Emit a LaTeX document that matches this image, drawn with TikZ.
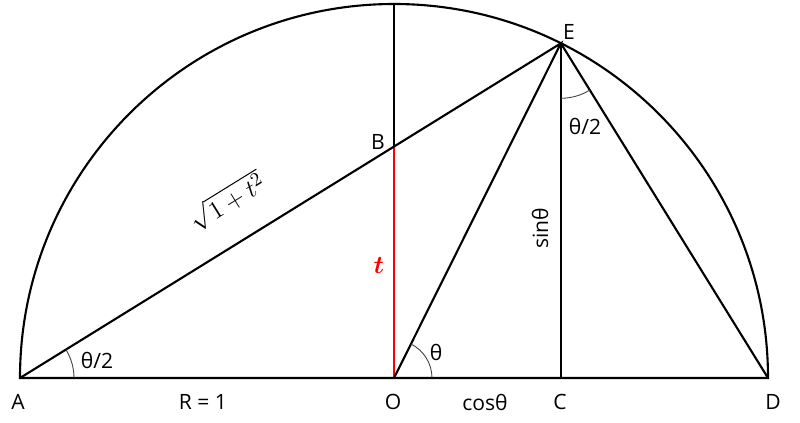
\documentclass[tikz,border=0pt]{standalone}
\usepackage{amsmath, fontspec}
\setmainfont{Open Sans}
\usetikzlibrary{angles, quotes}

\begin{document}
\begin{tikzpicture}[x=0.02cm, y=0.02cm, line width=1.2pt,
	lbl/.style={font=\fontsize{12}{14}\selectfont, inner sep=0pt},
	mth/.style={font=\fontsize{15}{17}\selectfont, inner sep=0pt},
	arcmark/.style={draw=black!75, line width=0.5pt}]
	\useasboundingbox (-394,-44) rectangle (406,378);
	\def\th{63.5}
	\coordinate (A) at (-374,0);
	\coordinate (D) at (374,0);
	\coordinate (O) at (0,0);
	\coordinate (T) at (0,374);
	\coordinate (E) at (\th:374);
	\coordinate (C) at ({374*cos(\th)},0);
	\coordinate (B) at (0,{374*tan(\th/2)});
	
	\draw (D) arc (0:180:374) -- cycle;
	\draw (B) -- (T);
	\draw[red, line width=1.7pt] (O) -- (B);
	\draw (A) -- (E) -- (O);
	\draw (E) -- (C);
	\draw (E) -- (D);
	
	\pic [arcmark, angle radius=1.08cm] {angle = D--A--E};
	\pic [arcmark, angle radius=0.76cm] {angle = D--O--E};
	\pic [arcmark, angle radius=1.1cm] {angle = C--E--D};
	
	\node[lbl] (lA) at (-376,-24) {A};
	\node[lbl] (lR) at (-191,-24) {R = 1};
	\node[lbl] (lO) at (-1,-24) {O};
	\node[lbl] (lcos) at (91,-24) {cosθ};
	\node[lbl] (lC) at (166,-24) {C};
	\node[lbl] (lD) at (379,-24) {D};
	\node[lbl] (lB) at (-16,236) {B};
	\node[lbl] (lE) at (175,346) {E};
	\node[lbl] (laA) at (-297,18) {θ/2};
	\node[lbl] (laO) at (42,26) {θ};
	\node[lbl] (laE) at (191,252) {θ/2};
	\node[lbl, rotate=90] (lsin) at (146,150) {sinθ};
	\node[mth, red] (lt) at (-15,113) {$\boldsymbol{t}$};
	\node[mth, rotate=\th/2] (lsq) at (-167,177) {$\sqrt{1+t^2}$};
\end{tikzpicture}
\end{document}
